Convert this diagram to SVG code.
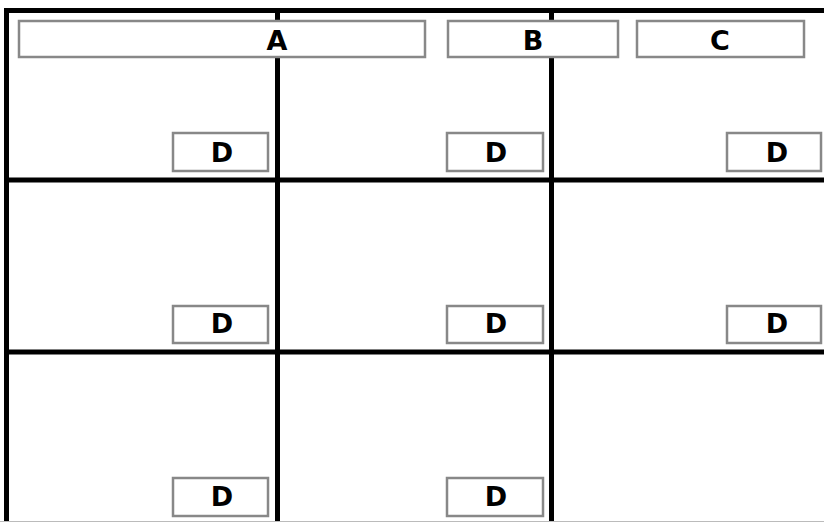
<svg xmlns="http://www.w3.org/2000/svg" width="824" height="522" viewBox="0 0 824 522">
<style>
.grid{stroke:#000;stroke-width:5;fill:none}
.box{fill:#fff;stroke:#888;stroke-width:2.5}
.lbl{font-family:"DejaVu Sans",Verdana,sans-serif;font-weight:bold;font-size:27px;fill:#000;text-anchor:middle}
</style>
<rect width="824" height="522" fill="#fff"/>
<g id="connectors">
<line class="grid" x1="4" y1="10.5" x2="824" y2="10.5"/>
<line class="grid" x1="6.5" y1="8" x2="6.5" y2="522"/>
<line class="grid" x1="277.5" y1="10" x2="277.5" y2="522"/>
<line class="grid" x1="551.5" y1="10" x2="551.5" y2="522"/>
<line class="grid" x1="4" y1="180" x2="824" y2="180"/>
<line class="grid" x1="4" y1="352" x2="824" y2="352"/>
<line x1="0" y1="521.5" x2="824" y2="521.5" stroke="#bbb" stroke-width="1"/>
</g>
<g id="A"><rect class="box" x="19" y="21" width="406" height="36"/><text class="lbl" x="277" y="50">A</text></g>
<g id="B"><rect class="box" x="448" y="21" width="170" height="36"/><text class="lbl" x="533" y="50">B</text></g>
<g id="C"><rect class="box" x="637" y="21" width="167" height="36"/><text class="lbl" x="720" y="50">C</text></g>
<g id="D1"><rect class="box" x="173" y="133" width="95" height="38"/><text class="lbl" x="222" y="162">D</text></g>
<g id="D2"><rect class="box" x="447" y="133" width="96" height="38"/><text class="lbl" x="496" y="162">D</text></g>
<g id="D3"><rect class="box" x="727" y="133" width="94" height="38"/><text class="lbl" x="777" y="162">D</text></g>
<g id="D4"><rect class="box" x="173" y="306" width="95" height="37"/><text class="lbl" x="222" y="333">D</text></g>
<g id="D5"><rect class="box" x="447" y="306" width="96" height="37"/><text class="lbl" x="496" y="333">D</text></g>
<g id="D6"><rect class="box" x="727" y="306" width="94" height="37"/><text class="lbl" x="777" y="333">D</text></g>
<g id="D7"><rect class="box" x="173" y="478" width="95" height="38"/><text class="lbl" x="222" y="506">D</text></g>
<g id="D8"><rect class="box" x="447" y="478" width="96" height="38"/><text class="lbl" x="496" y="506">D</text></g>
</svg>
